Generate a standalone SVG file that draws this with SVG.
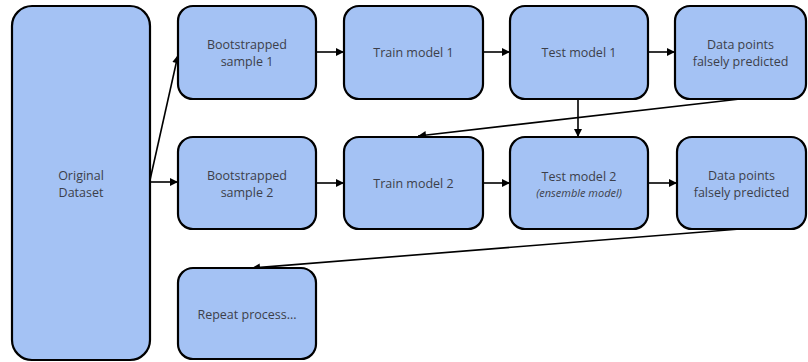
<svg xmlns="http://www.w3.org/2000/svg" width="808" height="362" viewBox="0 0 808 362">
  <defs>
    <marker id="arrow" viewBox="0 0 10 10" refX="10" refY="5" markerWidth="9" markerHeight="8" markerUnits="userSpaceOnUse" orient="auto">
      <path d="M0,0 L10,5 L0,10 z" fill="#000"/>
    </marker>
  </defs>
  <style>
    .box { fill: #a4c2f4; stroke: #000; stroke-width: 2.2; }
    .lbl { font-family: "Open Sans", "Noto Sans", sans-serif; font-size: 12.5px; fill: #3c3f4a; text-anchor: middle; dominant-baseline: central; }
    .sub { font-size: 11px; font-style: italic; }
    .edge { stroke: #000; stroke-width: 1.6; fill: none; marker-end: url(#arrow); }
  </style>

  <g id="connectors">
    <line class="edge" x1="150" y1="180" x2="178" y2="55"/>
    <line class="edge" x1="150" y1="182" x2="178" y2="182"/>
    <line class="edge" x1="316" y1="52" x2="344" y2="52"/>
    <line class="edge" x1="483" y1="52" x2="510" y2="52"/>
    <line class="edge" x1="648" y1="52" x2="675" y2="52"/>
    <line class="edge" x1="578" y1="99" x2="578" y2="137"/>
    <line class="edge" x1="740" y1="99" x2="418" y2="136"/>
    <line class="edge" x1="316" y1="183" x2="344" y2="183"/>
    <line class="edge" x1="483" y1="183" x2="510" y2="183"/>
    <line class="edge" x1="648" y1="183" x2="677" y2="183"/>
    <line class="edge" x1="740" y1="229" x2="252" y2="268"/>
  </g>

  <g id="original-dataset">
    <rect class="box" x="12" y="6" width="138" height="354" rx="20"/>
    <text class="lbl" x="81" y="175">Original</text>
    <text class="lbl" x="81" y="192">Dataset</text>
  </g>

  <g id="bootstrap-1">
    <rect class="box" x="178" y="6" width="138" height="93" rx="15"/>
    <text class="lbl" x="247" y="44">Bootstrapped</text>
    <text class="lbl" x="247" y="61">sample 1</text>
  </g>

  <g id="train-1">
    <rect class="box" x="344" y="6" width="139" height="93" rx="15"/>
    <text class="lbl" x="413.5" y="52">Train model 1</text>
  </g>

  <g id="test-1">
    <rect class="box" x="510" y="6" width="138" height="93" rx="15"/>
    <text class="lbl" x="579" y="52">Test model 1</text>
  </g>

  <g id="false-1">
    <rect class="box" x="675" y="6" width="131" height="93" rx="15"/>
    <text class="lbl" x="740.5" y="44">Data points</text>
    <text class="lbl" x="740.5" y="61">falsely predicted</text>
  </g>

  <g id="bootstrap-2">
    <rect class="box" x="178" y="137" width="138" height="92" rx="15"/>
    <text class="lbl" x="247" y="175">Bootstrapped</text>
    <text class="lbl" x="247" y="192">sample 2</text>
  </g>

  <g id="train-2">
    <rect class="box" x="344" y="137" width="139" height="92" rx="15"/>
    <text class="lbl" x="413.5" y="183">Train model 2</text>
  </g>

  <g id="test-2">
    <rect class="box" x="510" y="137" width="138" height="92" rx="15"/>
    <text class="lbl" x="579" y="176">Test model 2</text>
    <text class="lbl sub" x="579" y="192">(ensemble model)</text>
  </g>

  <g id="false-2">
    <rect class="box" x="677" y="137" width="129" height="92" rx="15"/>
    <text class="lbl" x="741.5" y="175">Data points</text>
    <text class="lbl" x="741.5" y="192">falsely predicted</text>
  </g>

  <g id="repeat">
    <rect class="box" x="178" y="268" width="138" height="91" rx="15"/>
    <text class="lbl" x="247" y="314">Repeat process...</text>
  </g>
</svg>
